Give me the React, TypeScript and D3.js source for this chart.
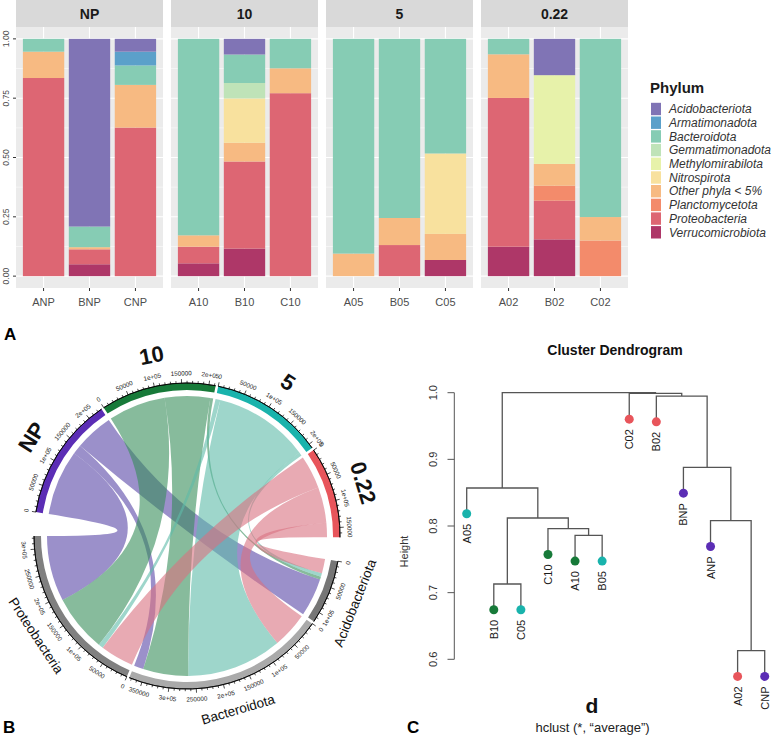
import React, { useEffect, useRef } from 'react';
import * as d3 from 'd3';

// ---------- panel A : stacked relative abundance ----------
const facets = ['NP', '10', '5', '0.22'];
const samples = ['ANP', 'BNP', 'CNP', 'A10', 'B10', 'C10', 'A05', 'B05', 'C05', 'A02', 'B02', 'C02'];
const sampleFacet = ['NP', 'NP', 'NP', '10', '10', '10', '5', '5', '5', '0.22', '0.22', '0.22'];

const phyla = [
  'Acidobacteriota', 'Armatimonadota', 'Bacteroidota', 'Gemmatimonadota', 'Methylomirabilota',
  'Nitrospirota', 'Other phyla < 5%', 'Planctomycetota', 'Proteobacteria', 'Verrucomicrobiota',
];
const phylaColors = [
  '#8074B5', '#5BA0CA', '#86CCB4', '#BFE3B8', '#E7F2AA',
  '#F8E19E', '#F7BA82', '#F38B6B', '#DD6673', '#AE3768',
];

// one array per phylum, same order as samples
const acidobacteriota = [0, 0.791, 0.054, 0, 0.066, 0, 0, 0, 0, 0, 0.153, 0];
const armatimonadota = [0, 0, 0.058, 0, 0, 0, 0, 0, 0, 0, 0, 0];
const bacteroidota = [0.054, 0.087, 0.082, 0.828, 0.12, 0.124, 0.905, 0.755, 0.483, 0.065, 0, 0.751];
const gemmatimonadota = [0, 0, 0, 0, 0.065, 0, 0, 0, 0, 0, 0, 0];
const methylomirabilota = [0, 0, 0, 0, 0, 0, 0, 0, 0, 0, 0.374, 0];
const nitrospirota = [0, 0, 0, 0, 0.187, 0, 0, 0, 0.339, 0, 0, 0];
const otherPhyla = [0.111, 0.009, 0.18, 0.048, 0.079, 0.105, 0.095, 0.114, 0.11, 0.184, 0.092, 0.099];
const planctomycetota = [0, 0, 0, 0, 0, 0, 0, 0, 0, 0, 0.063, 0.15];
const proteobacteria = [0.835, 0.063, 0.626, 0.07, 0.367, 0.771, 0, 0.131, 0, 0.627, 0.163, 0];
const verrucomicrobiota = [0, 0.05, 0, 0.054, 0.116, 0, 0, 0, 0.068, 0.124, 0.155, 0];
const phylaValues = [
  acidobacteriota, armatimonadota, bacteroidota, gemmatimonadota, methylomirabilota,
  nitrospirota, otherPhyla, planctomycetota, proteobacteria, verrucomicrobiota,
];
const yTicks = [0, 0.25, 0.5, 0.75, 1];
const yTickLabels = ['0.00', '0.25', '0.50', '0.75', '1.00'];

// ---------- panel B : chord diagram ----------
const sizeGroups = ['NP', '10', '5', '0.22'];
const sizeColors = ['#5B2DB5', '#177A39', '#19B3AC', '#E8555B'];
const ribbonColors = ['#5846A7', '#378E5A', '#5DBBA8', '#D97180'];
const chordPhyla = ['Acidobacteriota', 'Bacteroidota', 'Proteobacteria'];
const chordPhylaColors = ['#767676', '#AAAAAA', '#808080'];
const npReads = [76800, 19200, 132000];
const tenReads = [5800, 91200, 115200];
const fiveReads = [7200, 192000, 9600];
const p22Reads = [28800, 72000, 67200];
const chordMatrix = [npReads, tenReads, fiveReads, p22Reads];
const chordTickValues = [0, 50000, 100000, 150000, 200000, 250000, 300000, 350000];
const chordTickLabels = ['0', '50000', '1e+05', '150000', '2e+05', '250000', '3e+05', '350000'];

// ---------- panel C : dendrogram ----------
const leafLabels = ['A05', 'B10', 'C05', 'C10', 'A10', 'B05', 'C02', 'B02', 'BNP', 'ANP', 'A02', 'CNP'];
const leafGroup = ['5', '10', '5', '10', '10', '5', '0.22', '0.22', 'NP', 'NP', '0.22', 'NP'];
// R style merges: negative = leaf (1-based), positive = earlier merge
const mergeA = [-2, -5, -4, 1, -1, -11, -10, -9, -8, -7, 5];
const mergeB = [-3, -6, 2, 3, 4, -12, 6, 7, 8, 9, 10];
const mergeHeight = [0.713, 0.786, 0.796, 0.812, 0.857, 0.613, 0.808, 0.888, 0.995, 0.999, 1.0];
const dendroTicks = [0.6, 0.7, 0.8, 0.9, 1.0];

const font = '"Liberation Sans", Arial, Helvetica, sans-serif';
const deg = Math.PI / 180;

type Sel = d3.Selection<SVGGElement, unknown, null, undefined>;

function drawBars(g: Sel) {
  const panelX0 = 16, panelW = 147, panelGap = 8;
  const stripH = 27, plotTop = 27, plotBottom = 288;
  const y = d3.scaleLinear().domain([-0.05, 1.05]).range([plotBottom, plotTop]);
  const color = d3.scaleOrdinal<string, string>().domain(phyla).range(phylaColors);

  const rows = samples.map((s, i) => {
    const r: any = { sample: s, facet: sampleFacet[i] };
    phyla.forEach((p, j) => (r[p] = phylaValues[j][i]));
    return r;
  });
  const series = d3.stack().keys([...phyla].reverse())(rows);

  facets.forEach((f, fi) => {
    const x0 = panelX0 + fi * (panelW + panelGap);
    const fs = samples.filter((_, i) => sampleFacet[i] === f);
    const x = d3.scaleBand().domain(fs).range([x0, x0 + panelW]).paddingInner(0.1).paddingOuter(0.15);
    const p = g.append('g');

    p.append('rect').attr('x', x0).attr('y', plotTop).attr('width', panelW)
      .attr('height', plotBottom - plotTop).attr('fill', '#EBEBEB');
    d3.range(0.125, 1.0, 0.25).forEach(v => {
      p.append('line').attr('x1', x0).attr('x2', x0 + panelW).attr('y1', y(v)).attr('y2', y(v))
        .attr('stroke', '#fff').attr('stroke-width', 0.5);
    });
    yTicks.forEach(v => {
      p.append('line').attr('x1', x0).attr('x2', x0 + panelW).attr('y1', y(v)).attr('y2', y(v))
        .attr('stroke', '#fff').attr('stroke-width', 1.1);
    });
    fs.forEach(s => {
      const cx = (x(s) || 0) + x.bandwidth() / 2;
      p.append('line').attr('x1', cx).attr('x2', cx).attr('y1', plotTop).attr('y2', plotBottom)
        .attr('stroke', '#fff').attr('stroke-width', 1.1);
      p.append('line').attr('x1', cx).attr('x2', cx).attr('y1', plotBottom).attr('y2', plotBottom + 3)
        .attr('stroke', '#333').attr('stroke-width', 1);
      p.append('text').attr('x', cx).attr('y', plotBottom + 18).attr('text-anchor', 'middle')
        .attr('font-family', font).attr('font-size', 11).attr('fill', '#4D4D4D').text(s);
    });

    series.forEach(ser => {
      p.append('g').selectAll('rect')
        .data(ser.filter((d: any) => d.data.facet === f && d[1] - d[0] > 0))
        .join('rect')
        .attr('x', (d: any) => x(d.data.sample) || 0)
        .attr('width', x.bandwidth())
        .attr('y', (d: any) => y(d[1]))
        .attr('height', (d: any) => y(d[0]) - y(d[1]))
        .attr('fill', color(ser.key));
    });

    p.append('rect').attr('x', x0).attr('y', 0).attr('width', panelW).attr('height', stripH)
      .attr('fill', '#D9D9D9');
    p.append('text').attr('x', x0 + panelW / 2).attr('y', 19).attr('text-anchor', 'middle')
      .attr('font-family', font).attr('font-size', 14).attr('font-weight', 'bold')
      .attr('fill', '#1A1A1A').text(f);
  });

  yTicks.forEach((v, i) => {
    g.append('line').attr('x1', panelX0 - 3).attr('x2', panelX0).attr('y1', y(v)).attr('y2', y(v))
      .attr('stroke', '#333');
    g.append('text').attr('transform', `translate(9,${y(v)}) rotate(-90)`)
      .attr('text-anchor', 'middle').attr('font-family', font).attr('font-size', 8.5)
      .attr('fill', '#4D4D4D').text(yTickLabels[i]);
  });

  // legend
  const lg = g.append('g').attr('transform', 'translate(650,0)');
  lg.append('text').attr('x', 0).attr('y', 93).attr('font-family', font).attr('font-size', 15)
    .attr('font-weight', 'bold').attr('fill', '#1A1A1A').text('Phylum');
  phyla.forEach((p, i) => {
    const cy = 109 + i * 13.7;
    lg.append('rect').attr('x', 1).attr('y', cy - 6.2).attr('width', 10).attr('height', 12.4)
      .attr('fill', color(p));
    lg.append('text').attr('x', 19).attr('y', cy + 4.2).attr('font-family', font)
      .attr('font-size', 12).attr('font-style', 'italic').attr('fill', '#333').text(p);
  });
}

function drawChord(g: Sel) {
  const c = g.append('g').attr('transform', 'translate(187,536)');
  const rOut = 153, rIn = 146, rChord = 140;
  const total = d3.sum(chordMatrix.flat());
  const smallGap = 1 * deg, bigGap = 9 * deg;
  const k = (2 * Math.PI - 5 * smallGap - 2 * bigGap) / (2 * total);

  interface Sector { name: string; start: number; end: number; total: number; color: string; big: boolean }
  const sectors: Sector[] = [];
  let a = -81 * deg;
  sizeGroups.forEach((n, i) => {
    const t = d3.sum(chordMatrix[i]);
    sectors.push({ name: n, start: a, end: a + t * k, total: t, color: sizeColors[i], big: true });
    a += t * k + (i < sizeGroups.length - 1 ? smallGap : bigGap);
  });
  chordPhyla.forEach((n, j) => {
    const t = d3.sum(chordMatrix.map(r => r[j]));
    sectors.push({ name: n, start: a, end: a + t * k, total: t, color: chordPhylaColors[j], big: false });
    a += t * k + (j < chordPhyla.length - 1 ? smallGap : bigGap);
  });

  // link positions
  const rowPos: number[][][] = chordMatrix.map(() => []);
  const colPos: number[][][] = chordMatrix.map(() => []);
  sizeGroups.forEach((_, i) => {
    let cur = sectors[i].start;
    for (let j = chordPhyla.length - 1; j >= 0; j--) {
      const w = chordMatrix[i][j] * k;
      rowPos[i][j] = [cur, cur + w];
      cur += w;
    }
  });
  chordPhyla.forEach((_, j) => {
    let cur = sectors[sizeGroups.length + j].start;
    for (let i = sizeGroups.length - 1; i >= 0; i--) {
      const w = chordMatrix[i][j] * k;
      colPos[i][j] = [cur, cur + w];
      cur += w;
    }
  });

  const ribbon = d3.ribbon<any, any>();
  sizeGroups.forEach((_, i) => {
    chordPhyla.forEach((_, j) => {
      c.append('path')
        .attr('d', ribbon({
          source: { startAngle: rowPos[i][j][0], endAngle: rowPos[i][j][1], radius: rChord },
          target: { startAngle: colPos[i][j][0], endAngle: colPos[i][j][1], radius: rChord },
        }) as any)
        .attr('fill', ribbonColors[i]).attr('fill-opacity', 0.6);
    });
  });

  const arc = d3.arc<any>();
  const pt = (ang: number, r: number) => [r * Math.sin(ang), -r * Math.cos(ang)];
  const rot = (ang: number) => {
    let d = ((ang / deg) % 360 + 360) % 360;
    if (d > 90 && d < 270) d -= 180;
    return d;
  };

  sectors.forEach(s => {
    c.append('path')
      .attr('d', arc({ innerRadius: rIn, outerRadius: rOut, startAngle: s.start, endAngle: s.end }))
      .attr('fill', s.color);
    c.append('path')
      .attr('d', arc({ innerRadius: rOut, outerRadius: rOut, startAngle: s.start, endAngle: s.end }))
      .attr('fill', 'none').attr('stroke', '#000').attr('stroke-width', 0.8);

    const scale = d3.scaleLinear().domain([0, s.total]).range([s.start, s.end]);
    d3.range(0, s.total + 1, 10000).forEach(v => {
      const major = v % 50000 === 0;
      const ang = scale(v);
      const [x1, y1] = pt(ang, rOut);
      const [x2, y2] = pt(ang, rOut + (major ? 4 : 2.2));
      c.append('line').attr('x1', x1).attr('y1', y1).attr('x2', x2).attr('y2', y2)
        .attr('stroke', '#000').attr('stroke-width', 0.7);
      if (major) {
        const idx = chordTickValues.indexOf(v);
        const [tx, ty] = pt(ang, rOut + 10);
        c.append('text').attr('transform', `translate(${tx},${ty}) rotate(${rot(ang)})`)
          .attr('text-anchor', 'middle').attr('dominant-baseline', 'central')
          .attr('font-family', font).attr('font-size', 6.3).attr('fill', '#222')
          .text(chordTickLabels[idx]);
      }
    });

    const mid = (s.start + s.end) / 2;
    const [nx, ny] = pt(mid, s.big ? 184 : 181);
    c.append('text').attr('transform', `translate(${nx},${ny}) rotate(${rot(mid)})`)
      .attr('text-anchor', 'middle').attr('dominant-baseline', 'central')
      .attr('font-family', font).attr('font-size', s.big ? 22 : 13.5)
      .attr('font-weight', s.big ? 'bold' : 'normal').attr('fill', '#111').text(s.name);
  });
}

function drawDendro(g: Sel) {
  const x = d3.scalePoint().domain(leafLabels).range([466.7, 764.7]);
  const y = d3.scaleLinear().domain([0.6, 1.0]).range([659.3, 392.7]);
  const hang = 0.1 * (d3.max(mergeHeight)! - d3.min(mergeHeight)!);
  const groupColor = d3.scaleOrdinal<string, string>().domain(sizeGroups).range(sizeColors);

  const mx: number[] = [];
  const leafH: number[] = [];
  const pos = (ref: number, h: number) => {
    if (ref < 0) {
      leafH[-ref - 1] = h - hang;
      return { px: x(leafLabels[-ref - 1]) || 0, py: h - hang };
    }
    return { px: mx[ref - 1], py: mergeHeight[ref - 1] };
  };
  const d = g.append('g');
  mergeA.forEach((ra, i) => {
    const h = mergeHeight[i];
    const A = pos(ra, h);
    const B = pos(mergeB[i], h);
    mx[i] = (A.px + B.px) / 2;
    const path = d3.path();
    path.moveTo(A.px, y(A.py));
    path.lineTo(A.px, y(h));
    path.lineTo(B.px, y(h));
    path.lineTo(B.px, y(B.py));
    d.append('path').attr('d', path.toString()).attr('fill', 'none')
      .attr('stroke', '#555').attr('stroke-width', 1.3);
  });

  leafLabels.forEach((l, i) => {
    const cx = x(l) || 0;
    const cy = y(leafH[i]);
    d.append('circle').attr('cx', cx).attr('cy', cy).attr('r', 4.5).attr('fill', groupColor(leafGroup[i]));
    d.append('text').attr('transform', `translate(${cx},${cy + 10}) rotate(-90)`)
      .attr('text-anchor', 'end').attr('dominant-baseline', 'central')
      .attr('font-family', font).attr('font-size', 11).attr('fill', '#1A1A1A').text(l);
  });

  d.append('line').attr('x1', 454.3).attr('x2', 454.3).attr('y1', y(0.6)).attr('y2', y(1.0))
    .attr('stroke', '#555').attr('stroke-width', 1);
  dendroTicks.forEach(v => {
    d.append('line').attr('x1', 447.5).attr('x2', 454.3).attr('y1', y(v)).attr('y2', y(v))
      .attr('stroke', '#555').attr('stroke-width', 1);
    d.append('text').attr('transform', `translate(437,${y(v)}) rotate(-90)`)
      .attr('text-anchor', 'middle').attr('font-family', font).attr('font-size', 11)
      .attr('fill', '#333').text(v.toFixed(1));
  });
  d.append('text').attr('transform', 'translate(408,551.5) rotate(-90)').attr('text-anchor', 'middle')
    .attr('font-family', font).attr('font-size', 11).attr('fill', '#333').text('Height');
  d.append('text').attr('x', 615).attr('y', 355).attr('text-anchor', 'middle')
    .attr('font-family', font).attr('font-size', 14).attr('font-weight', 'bold').attr('fill', '#111')
    .text('Cluster Dendrogram');
  d.append('text').attr('x', 592).attr('y', 713).attr('text-anchor', 'middle')
    .attr('font-family', font).attr('font-size', 21).attr('font-weight', 'bold').attr('fill', '#111')
    .text('d');
  d.append('text').attr('x', 592.5).attr('y', 732).attr('text-anchor', 'middle')
    .attr('font-family', font).attr('font-size', 13).attr('fill', '#222')
    .text('hclust (*, \u201Caverage\u201D)');
}

const App: React.FC = () => {
  const svgRef = useRef<SVGSVGElement | null>(null);

  useEffect(() => {
    const svg = d3.select(svgRef.current);
    svg.selectAll('*').remove();
    const root = svg.append('g') as unknown as Sel;

    drawBars(root.append('g'));
    drawChord(root.append('g'));
    drawDendro(root.append('g'));

    const letters = [['A', 4, 340], ['B', 3, 733], ['C', 407, 733]] as const;
    letters.forEach(([t, lx, ly]) => {
      root.append('text').attr('x', lx).attr('y', ly).attr('font-family', font)
        .attr('font-size', 17).attr('font-weight', 'bold').attr('fill', '#000').text(t);
    });
  }, []);

  return (
    <svg ref={svgRef} width={777} height={737}
      style={{ position: 'absolute', left: 0, top: 0, background: '#fff', display: 'block' }} />
  );
};

export default App;
